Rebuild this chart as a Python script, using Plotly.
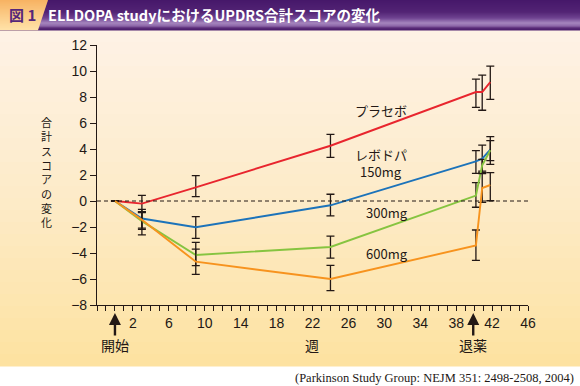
import plotly.graph_objects as go

# ---------------- data ----------------
weeks = [0, 3, 9, 24, 40.2, 40.9, 41.8]

placebo = [0, -0.2, 1.05, 4.25, 8.38, 8.38, 9.15]
placebo_hi = [None, 0.44, 1.95, 5.13, 9.38, 9.69, 10.38]
placebo_lo = [None, -0.84, 0.33, 3.36, 7.2, 6.98, 7.82]

dose150 = [0, -1.35, -2.02, -0.33, 3.05, 3.25, 3.95]
dose150_hi = [None, -0.64, -1.2, 0.52, 3.87, 4.3, 4.95]
dose150_lo = [None, -2.08, -2.87, -1.15, 2.13, 2.2, 2.82]

dose300 = [0, -1.55, -4.15, -3.54, 0.42, 2.75, 3.9]
dose300_hi = [None, -0.9, -3.18, -2.7, 1.41, 3.2, 4.64]
dose300_lo = [None, -2.18, -4.97, -4.4, -0.48, 2.3, 3.1]

dose600 = [0, -1.45, -4.67, -6.0, -3.42, 1.0, 1.23]
dose600_hi = [None, -0.82, -3.7, -4.95, -2.23, 2.1, 2.18]
dose600_lo = [None, -2.6, -5.64, -6.9, -4.56, -0.1, 0.02]

x_tick_vals = [2, 6, 10, 14, 18, 22, 26, 30, 34, 38, 42, 46]
y_tick_vals = [-8, -6, -4, -2, 0, 2, 4, 6, 8, 10, 12]

title_text = "ELLDOPA studyにおけるUPDRS合計スコアの変化"
fig_label = "図 1"
y_title = "合計スコアの変化"
source_text = "(Parkinson Study Group: NEJM 351: 2498-2508, 2004)"

# ---------------- layout geometry (pixels) ----------------
W, H = 580, 386
L, R, T, B = 97, 52, 45, 81
PW, PH = W - L - R, H - T - B


def px_x(p):
    return (p - L) / PW


def px_y(p):
    return (H - B - p) / PH


def hex2rgb(h):
    h = h.lstrip("#")
    return tuple(int(h[i:i + 2], 16) for i in (0, 2, 4))


def interp(stops, t):
    for (t0, c0), (t1, c1) in zip(stops, stops[1:]):
        if t0 <= t <= t1:
            f = 0 if t1 == t0 else (t - t0) / (t1 - t0)
            a, b = hex2rgb(c0), hex2rgb(c1)
            return "rgb(%d,%d,%d)" % tuple(round(a[i] + (b[i] - a[i]) * f) for i in range(3))
    return stops[-1][1]


JP = "Noto Sans CJK JP"
SANS = "Liberation Sans, Arial, sans-serif"
INK = "#231815"

fig = go.Figure()

series = [
    ("プラセボ", placebo, placebo_hi, placebo_lo, "#E8252E"),
    ("150mg", dose150, dose150_hi, dose150_lo, "#1C73BA"),
    ("300mg", dose300, dose300_hi, dose300_lo, "#86C440"),
    ("600mg", dose600, dose600_hi, dose600_lo, "#F7931E"),
]

for name, vals, hi, lo, col in series:
    plus = [None if h is None else h - v for h, v in zip(hi, vals)]
    minus = [None if l is None else v - l for l, v in zip(lo, vals)]
    fig.add_trace(go.Scatter(
        x=weeks, y=vals, mode="lines", name=name,
        line=dict(color=col, width=1.9),
        error_y=dict(type="data", symmetric=False, array=plus, arrayminus=minus,
                     color=INK, thickness=1.3, width=4),
        showlegend=False, hoverinfo="skip",
    ))

shapes = []

# panel background gradient
pstops = [(0, "#FEF2E6"), (0.5, "#FDEBC8"), (1, "#FDE2A0")]
top, bot, n = 30, 366, 28
for i in range(n):
    y0 = top + (bot - top) * i / n
    y1 = top + (bot - top) * (i + 1) / n
    shapes.append(dict(type="rect", xref="paper", yref="paper", layer="below",
                       x0=px_x(0), x1=px_x(W), y0=px_y(y1 + 0.5), y1=px_y(y0),
                       fillcolor=interp(pstops, (i + 0.5) / n), line=dict(width=0)))

# header gradient
hstops = [(0, "#46176A"), (12, "#522474"), (18, "#6E4290"), (23, "#A585BE"),
          (26, "#8D66A8"), (28, "#5A2C78"), (30, "#4A1C6B")]
for i in range(30):
    shapes.append(dict(type="rect", xref="paper", yref="paper", layer="below",
                       x0=px_x(0), x1=px_x(W), y0=px_y(i + 1.5), y1=px_y(i),
                       fillcolor=interp(hstops, i + 0.5), line=dict(width=0)))

# orange label tab (slanted)
ostops = [(0, "#F7B262"), (15, "#FBCB86"), (30, "#FFE2A8")]
for i in range(30):
    xt = 48 - 10 * i / 30
    xb = 48 - 10 * (i + 1.2) / 30
    path = "M %f,%f L %f,%f L %f,%f L %f,%f Z" % (
        px_x(0), px_y(i), px_x(xt), px_y(i), px_x(xb), px_y(i + 1.2), px_x(0), px_y(i + 1.2))
    shapes.append(dict(type="path", xref="paper", yref="paper", layer="below", path=path,
                       fillcolor=interp(ostops, i + 0.5), line=dict(width=0)))

# zero dashed line
shapes.append(dict(type="line", xref="paper", yref="y", x0=0, x1=1, y0=0, y1=0,
                   line=dict(color=INK, width=1, dash="4px,3px"), layer="above"))

annotations = []

annotations.append(dict(xref="paper", yref="paper", x=px_x(7), y=px_y(15), text="<b>" + fig_label + "</b>",
                        showarrow=False, xanchor="left", yanchor="middle",
                        font=dict(family=JP, size=15, color="#55267A")))
annotations.append(dict(xref="paper", yref="paper", x=px_x(46), y=px_y(15), text="<b>" + title_text + "</b>",
                        showarrow=False, xanchor="left", yanchor="middle",
                        font=dict(family=JP, size=14.5, color="white")))

# vertical y-axis title, one character per line
annotations.append(dict(xref="paper", yref="paper", x=px_x(46.5), y=px_y(172),
                        text="<br>".join(y_title), showarrow=False, xanchor="center", yanchor="middle",
                        font=dict(family=JP, size=11, color=INK)))

# series labels
labels = [("プラセボ", 29.6, 7.0), ("レボドパ", 29.6, 3.6), ("150mg", 29.6, 2.3),
          ("300mg", 30.3, -0.9), ("600mg", 30.3, -4.0)]
for txt, lx, ly in labels:
    annotations.append(dict(xref="x", yref="y", x=lx, y=ly, text=txt, showarrow=False,
                            xanchor="center", yanchor="middle",
                            font=dict(family=JP, size=13, color=INK)))

# arrows and bottom labels
for ax_x in (0, 39.9):
    annotations.append(dict(xref="x", yref="paper", x=ax_x, y=px_y(313), ax=0, ay=24,
                            text="", showarrow=True, arrowhead=2, arrowsize=1.0,
                            arrowwidth=2.4, arrowcolor=INK))
for txt, lx in (("開始", 0), ("週", 21.9), ("退薬", 39.9)):
    annotations.append(dict(xref="x", yref="paper", x=lx, y=px_y(345), text=txt, showarrow=False,
                            xanchor="center", yanchor="middle",
                            font=dict(family=JP, size=14, color=INK)))

annotations.append(dict(xref="paper", yref="paper", x=px_x(576), y=px_y(378), text=source_text,
                        showarrow=False, xanchor="right", yanchor="middle",
                        font=dict(family="Liberation Serif, serif", size=12.5, color=INK)))

fig.update_layout(
    width=W, height=H,
    margin=dict(l=L, r=R, t=T, b=B, pad=0),
    paper_bgcolor="white", plot_bgcolor="white",
    shapes=shapes, annotations=annotations,
    xaxis=dict(range=[-2, 46], tickvals=x_tick_vals, ticks="outside", ticklen=5, tickwidth=1,
               tickcolor=INK, showline=True, linecolor=INK, linewidth=1.2, showgrid=False,
               zeroline=False, tickfont=dict(family=SANS, size=14, color=INK),
               minor=dict(dtick=1, tick0=0, ticks="outside", ticklen=5, tickwidth=1, tickcolor=INK,
                          showgrid=False)),
    yaxis=dict(range=[-8, 12], tickvals=y_tick_vals, ticks="outside", ticklen=6, tickwidth=1,
               tickcolor=INK, showline=True, linecolor=INK, linewidth=1.2, showgrid=False,
               zeroline=False, tickfont=dict(family=SANS, size=14, color=INK)),
)

fig.write_html("out.html", config={"displayModeBar": False},
               post_script="document.body.style.margin='0px';")
